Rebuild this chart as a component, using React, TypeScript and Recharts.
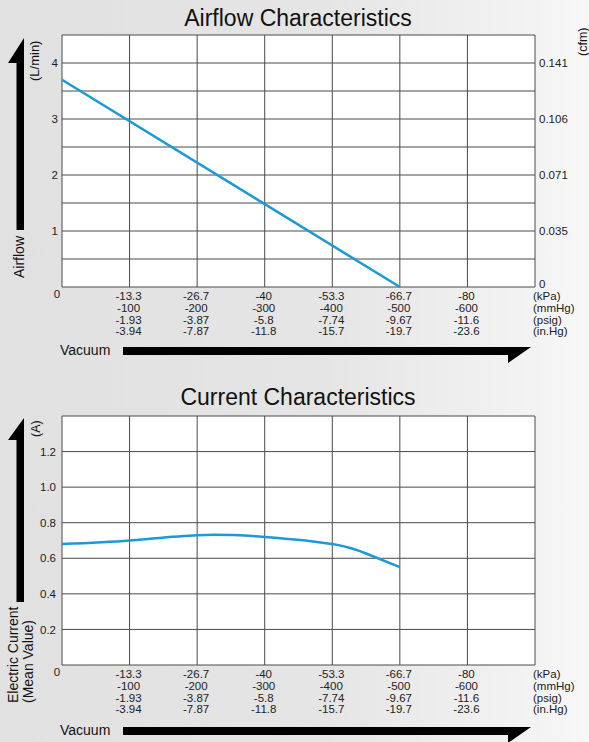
import React from 'react';
import { LineChart, Line, XAxis, YAxis, CartesianGrid } from 'recharts';

const FONT = '"Liberation Sans", Arial, Helvetica, sans-serif';
const BLUE = '#1b9ad7';
const GRID = '#4a4a4a';

// vacuum axis (positions in mmHg, labels in all four units)
const mmHgTicks = [0, -100, -200, -300, -400, -500, -600, -700];
const kPaLabels = ['0', '-13.3', '-26.7', '-40', '-53.3', '-66.7', '-80', ''];
const mmHgLabels = ['', '-100', '-200', '-300', '-400', '-500', '-600', ''];
const psigLabels = ['', '-1.93', '-3.87', '-5.8', '-7.74', '-9.67', '-11.6', ''];
const inHgLabels = ['', '-3.94', '-7.87', '-11.8', '-15.7', '-19.7', '-23.6', ''];
const unitLabels = ['(kPa)', '(mmHg)', '(psig)', '(in.Hg)'];

// airflow chart
const flowVacuum = [0, -500];
const flowValues = [3.7, 0];
const flowGridTicks = [0, 0.5, 1, 1.5, 2, 2.5, 3, 3.5, 4, 4.5];
const flowLabelTicks = [1, 2, 3, 4];
const cfmTicks = [0, 1, 2, 3, 4];
const cfmLabels = ['0', '0.035', '0.071', '0.106', '0.141'];

// current chart
const currentVacuum = [0, -100, -200, -300, -400, -450, -500];
const currentValues = [0.68, 0.7, 0.73, 0.72, 0.68, 0.627, 0.55];
const currentGridTicks = [0, 0.2, 0.4, 0.6, 0.8, 1.0, 1.2, 1.4];

const flowData = flowVacuum.map((v, i) => ({ mmHg: v, flow: flowValues[i] }));
const currentData = currentVacuum.map((v, i) => ({ mmHg: v, amp: currentValues[i] }));

const LINE_STEP = 11.8;
const textStyle = { fontSize: 11.5, fill: '#222', fontFamily: FONT };

const VacuumTick = (props: any) => {
    const { x, y, payload } = props;
    const i = mmHgTicks.indexOf(payload.value);
    if (i === 0) {
        return <text x={x - 5} y={y + 11} textAnchor="middle" {...textStyle}>0</text>;
    }
    if (i === mmHgTicks.length - 1) {
        return (
            <g>
                {unitLabels.map((u, k) => (
                    <text key={u} x={x - 2} y={y + 13 + k * LINE_STEP} textAnchor="start" {...textStyle}>{u}</text>
                ))}
            </g>
        );
    }
    const rows = [kPaLabels[i], mmHgLabels[i], psigLabels[i], inHgLabels[i]];
    return (
        <g>
            {rows.map((r, k) => (
                <text key={k} x={x - 1} y={y + 13 + k * LINE_STEP} textAnchor="middle" {...textStyle}>{r}</text>
            ))}
        </g>
    );
};

// right-hand cfm labels; the bottom "0" sits a little above the grid corner
const CfmTick = (props: any) => {
    const { x, y, payload } = props;
    const lift = payload.value === 0 ? 3 : 0;
    return (
        <text x={x} y={y - lift} dy="0.355em" textAnchor="start" {...textStyle}>
            {cfmLabels[payload.value]}
        </text>
    );
};

export default function App() {
    return (
        <div
            style={{
                position: 'absolute', left: 0, top: 0, width: 589, height: 742, overflow: 'hidden',
                background: 'linear-gradient(90deg, #e1e1e1 0%, #e5e5e5 55%, #f1f1f1 85%, #f7f7f7 100%)',
                fontFamily: FONT,
            }}
        >
            <div style={{ position: 'absolute', left: 0, top: 0 }}>
                <LineChart width={589} height={370} data={flowData}
                    margin={{ top: 35, right: 14, bottom: 23, left: 22 }}>
                    <CartesianGrid stroke={GRID} strokeWidth={1} fill="#fff" fillOpacity={1} />
                    <XAxis dataKey="mmHg" type="number" domain={[-700, 0]} reversed ticks={mmHgTicks}
                        interval={0} tick={<VacuumTick />} tickLine={false} axisLine={false}
                        tickSize={0} tickMargin={0} height={60} />
                    <YAxis type="number" domain={[0, 4.5]} ticks={flowGridTicks} interval={0}
                        tickFormatter={(v: number) => (flowLabelTicks.includes(v) ? String(v) : '')}
                        tick={textStyle} tickLine={false} axisLine={false} tickSize={0} tickMargin={4} width={40} />
                    <YAxis yAxisId="right" orientation="right" type="number" domain={[0, 4.5]} ticks={cfmTicks}
                        interval={0} tick={<CfmTick />} tickLine={false} axisLine={false}
                        tickSize={0} tickMargin={4} width={40} />
                    <Line yAxisId="right" type="linear" dataKey="flow" stroke="none" dot={false}
                        activeDot={false} isAnimationActive={false} />
                    <Line type="linear" dataKey="flow" stroke={BLUE} strokeWidth={2.5} dot={false}
                        isAnimationActive={false} />
                </LineChart>
            </div>

            <div style={{ position: 'absolute', left: 0, top: 380 }}>
                <LineChart width={589} height={362} data={currentData}
                    margin={{ top: 36, right: 54, bottom: 17, left: 22 }}>
                    <CartesianGrid stroke={GRID} strokeWidth={1} fill="#fff" fillOpacity={1} />
                    <XAxis dataKey="mmHg" type="number" domain={[-700, 0]} reversed ticks={mmHgTicks}
                        interval={0} tick={<VacuumTick />} tickLine={false} axisLine={false}
                        tickSize={0} tickMargin={0} height={60} />
                    <YAxis type="number" domain={[0, 1.4]} ticks={currentGridTicks} interval={0}
                        tickFormatter={(v: number) => (v > 0.1 && v < 1.3 ? v.toFixed(1) : '')}
                        tick={textStyle} tickLine={false} axisLine={false} tickSize={0} tickMargin={6} width={40} />
                    <Line type="natural" dataKey="amp" stroke={BLUE} strokeWidth={2.5} dot={false}
                        isAnimationActive={false} />
                </LineChart>
            </div>

            <svg width={589} height={742}
                style={{ position: 'absolute', left: 0, top: 0, pointerEvents: 'none' }}
                fontFamily={FONT}>
                <text x={298} y={26} textAnchor="middle" fontSize={23} fill="#111">Airflow Characteristics</text>
                <text x={298} y={405} textAnchor="middle" fontSize={23} fill="#111">Current Characteristics</text>

                {/* vertical arrows */}
                <polygon points="24,38 8,63 16.5,63 16.5,230 24,230" fill="#000" />
                <polygon points="24,418 8,440 16.5,440 16.5,602 24,602" fill="#000" />

                {/* vacuum arrows */}
                <polygon points="123,347 531,347 508,363 508,355 123,355" fill="#000" />
                <polygon points="123,727 531,727 508,743 508,735 123,735" fill="#000" />
                <text x={60} y={355} fontSize={14} fill="#111">Vacuum</text>
                <text x={60} y={735} fontSize={14} fill="#111">Vacuum</text>

                {/* rotated axis titles */}
                <text transform="translate(34,81) rotate(-90)" dominantBaseline="central" fontSize={13} fill="#111">(L/min)</text>
                <text transform="translate(19,278) rotate(-90)" dominantBaseline="central" fontSize={14} fill="#111">Airflow</text>
                <text transform="translate(583,56) rotate(-90)" dominantBaseline="central" fontSize={12.5} fill="#111">(cfm)</text>
                <text transform="translate(36,437) rotate(-90)" dominantBaseline="central" fontSize={12.5} fill="#111">(A)</text>
                <text transform="translate(13,703) rotate(-90)" dominantBaseline="central" fontSize={14} fill="#111">Electric Current</text>
                <text transform="translate(28,703) rotate(-90)" dominantBaseline="central" fontSize={14} fill="#111">(Mean Value)</text>
            </svg>
        </div>
    );
}
